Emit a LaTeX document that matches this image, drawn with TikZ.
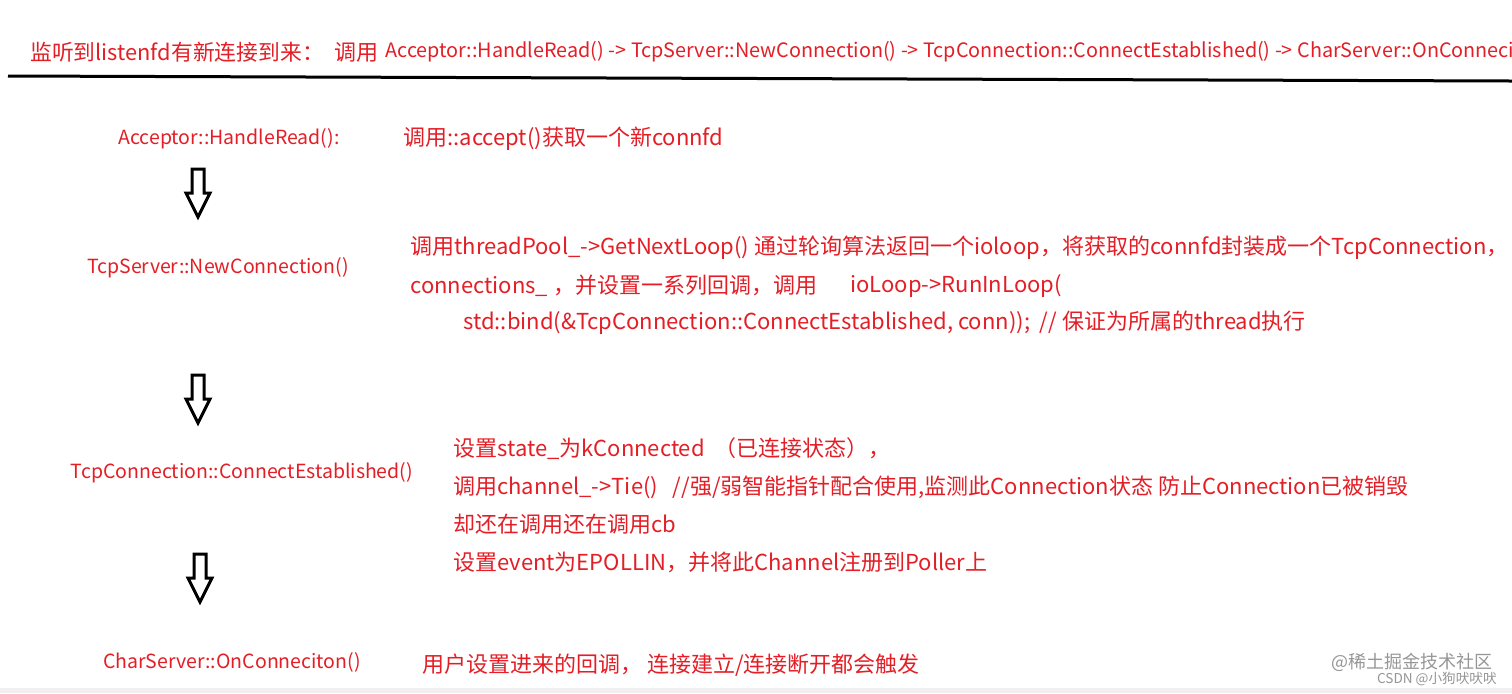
\documentclass[tikz,border=0pt]{standalone}
\usepackage{fontspec}
\setmainfont{Noto Sans CJK SC}
\definecolor{txtred}{RGB}{228,30,38}
\definecolor{wm}{RGB}{150,150,150}
\begin{document}
\begin{tikzpicture}[x=0.5pt,y=-0.5pt,
  main/.style={anchor=west,inner sep=0,text=txtred,font=\fontsize{11}{13}\selectfont},
  lab/.style={anchor=center,inner sep=0,text=txtred,font=\fontsize{9.75}{11}\selectfont},
  blockarrow/.style={draw=black,line width=1.5pt,line join=miter,fill=white}]
\useasboundingbox (0,0) rectangle (1512,693);
\fill[white] (0,0) rectangle (1512,693);
\fill[gray!12] (0,688) rectangle (1512,693);
\node[main,font=\fontsize{10.9}{13}\selectfont] (top1) at (30,52) {监听到listenfd有新连接到来：};
\node[main,font=\fontsize{11}{13}\selectfont] (top2) at (334,52) {调用};
\begin{scope}
\clip (0,0) rectangle (1512,693);
\node[main,font=\fontsize{9.9}{12}\selectfont] (top3) at (385,52) {Acceptor::HandleRead() -> TcpServer::NewConnection() -> TcpConnection::ConnectEstablished() -> CharServer::OnConneciton()};
\end{scope}
\draw[line width=1.5pt] (8,76) coordinate (l0) -- (1512,81) coordinate (l1);
% left labels
\node[lab] (acc) at (229,139) {Acceptor::HandleRead():};
\node[lab] (tsn) at (218,268) {TcpServer::NewConnection()};
\node[lab] (tce) at (242,473) {TcpConnection::ConnectEstablished()};
\node[lab] (cso) at (232,662) {CharServer::OnConneciton()};
% block arrows
\foreach \cx/\ty in {198/169, 198/375, 200/554}{
  \draw[blockarrow] (\cx-6,\ty) -- (\cx+6,\ty) -- (\cx+6,\ty+24) -- (\cx+12,\ty+24)
    -- (\cx,\ty+48) -- (\cx-12,\ty+24) -- (\cx-6,\ty+24) -- cycle;
}
% right texts
\node[main] (t1) at (403,139) {调用::accept()获取一个新connfd};
\node[main] (t2a) at (410,248) {调用threadPool\_->GetNextLoop() 通过轮询算法返回一个ioloop，将获取的connfd封装成一个TcpConnection，};
\node[main] (t2b) at (410,286) {connections\_ ，并设置一系列回调，调用};
\node[main] (t2c) at (850,286) {ioLoop->RunInLoop(};
\node[main] (t2d) at (463,323) {std::bind(\&TcpConnection::ConnectEstablished, conn));\ \ // 保证为所属的thread执行};
\node[main] (t3a) at (453,449) {设置state\_为kConnected\ \ （已连接状态），};
\node[main] (t3b) at (453,487) {调用channel\_->Tie()\ \ \ //强/弱智能指针配合使用,监测此Connection状态 防止Connection已被销毁};
\node[main] (t3c) at (453,524) {却还在调用还在调用cb};
\node[main] (t3d) at (453,562) {设置event为EPOLLIN，并将此Channel注册到Poller上};
\node[main] (t4) at (422,665) {用户设置进来的回调， 连接建立/连接断开都会触发};
% watermark
\node[anchor=east,inner sep=0,text=wm,font=\fontsize{9}{10}\selectfont] (wm1) at (1493,662) {@稀土掘金技术社区};
\node[anchor=east,inner sep=0,text=wm,font=\fontsize{6.8}{8}\selectfont] (wm2) at (1497,679) {CSDN @小狗吠吠吠};
\end{tikzpicture}
\end{document}
